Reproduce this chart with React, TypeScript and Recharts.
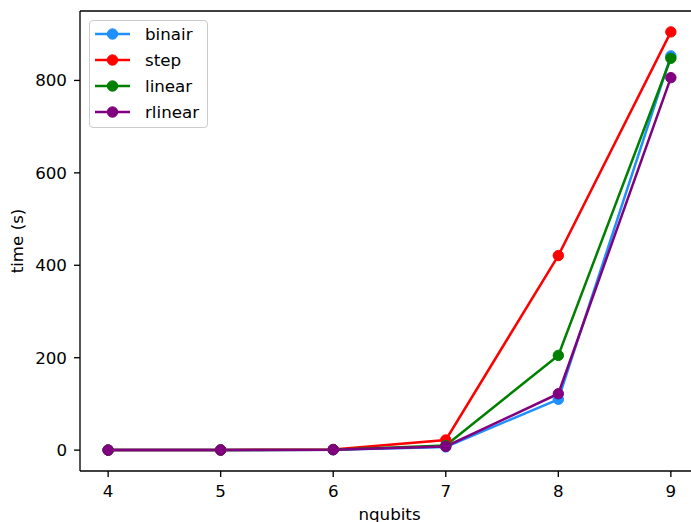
import React from 'react';
import { LineChart, Line, XAxis, YAxis, Legend, ReferenceLine } from 'recharts';

const qubits = [4, 5, 6, 7, 8, 9];
const binair = [0.1, 0.3, 0.9, 7, 110, 853];
const step = [0.1, 0.4, 1.5, 22, 421, 905];
const linear = [0.1, 0.3, 1.0, 10, 205, 848];
const rlinear = [0.1, 0.3, 1.0, 8, 122, 806];
const xTicks = [4, 5, 6, 7, 8, 9];
const yTicks = [0, 200, 400, 600, 800];

const series = [
  { key: 'binair', name: 'binair', color: '#1E90FF', values: binair },
  { key: 'step', name: 'step', color: '#FF0000', values: step },
  { key: 'linear', name: 'linear', color: '#008000', values: linear },
  { key: 'rlinear', name: 'rlinear', color: '#800080', values: rlinear },
];

const data = qubits.map((q, i) => {
  const row: Record<string, number> = { x: q };
  series.forEach((s) => {
    row[s.key] = s.values[i];
  });
  return row;
});

const allY = series.flatMap((s) => s.values);
const yMin = Math.min(...allY);
const yMax = Math.max(...allY);
const yPad = (yMax - yMin) * 0.05;
const xPad = (qubits[qubits.length - 1] - qubits[0]) * 0.05;

const FONT = '"DejaVu Sans", sans-serif';
const FS = 16.7;
const DOT_R = 5.2;

const LegendBox = () => (
  <div
    style={{
      width: 119,
      height: 108,
      boxSizing: 'border-box',
      border: '1px solid #cccccc',
      borderRadius: 4,
      background: 'rgba(255,255,255,0.8)',
      paddingTop: 0,
      fontFamily: FONT,
      fontSize: FS,
      color: '#000',
    }}
  >
    {series.map((s) => (
      <div key={s.key} style={{ display: 'flex', alignItems: 'center', height: 26 }}>
        <svg width={50} height={26} style={{ display: 'block' }}>
          <line x1={5} y1={13} x2={40} y2={13} stroke={s.color} strokeWidth={2.5} />
          <circle cx={22.5} cy={13} r={DOT_R} fill={s.color} stroke={s.color} strokeWidth={1} />
        </svg>
        <span style={{ marginLeft: 5, lineHeight: '26px' }}>{s.name}</span>
      </div>
    ))}
  </div>
);

const YLabel = (props: any) => {
  const vb = props.viewBox || {};
  const cx = 23;
  const cy = vb.y + vb.height / 2;
  return (
    <text
      x={cx}
      y={cy}
      transform={`rotate(-90 ${cx} ${cy})`}
      textAnchor="middle"
      fontFamily={FONT}
      fontSize={FS}
      fill="#000"
    >
      time (s)
    </text>
  );
};

const XLabel = (props: any) => {
  const vb = props.viewBox || {};
  const cx = vb.x + vb.width / 2;
  return (
    <text x={cx} y={519.5} textAnchor="middle" fontFamily={FONT} fontSize={FS} fill="#000">
      nqubits
    </text>
  );
};

const tickStyle = { fontFamily: FONT, fontSize: FS, fill: '#000' };

export default function App() {
  return (
    <div
      style={{
        position: 'absolute',
        left: 0,
        top: 0,
        width: 691,
        height: 522,
        overflow: 'hidden',
        background: '#fff',
      }}
    >
      <LineChart
        width={710}
        height={522}
        data={data}
        margin={{ top: 11, right: 11, bottom: 0, left: 0 }}
      >
        <XAxis
          dataKey="x"
          type="number"
          domain={[qubits[0] - xPad, qubits[qubits.length - 1] + xPad]}
          ticks={xTicks}
          height={51}
          tickSize={6}
          tickMargin={8}
          tick={tickStyle}
          stroke="#000"
          axisLine={{ stroke: '#000', strokeWidth: 1.33 }}
          tickLine={{ stroke: '#000', strokeWidth: 1.33 }}
          label={<XLabel />}
          allowDataOverflow
        />
        <YAxis
          type="number"
          domain={[yMin - yPad, yMax + yPad]}
          ticks={yTicks}
          width={80}
          tickSize={6}
          tickMargin={7}
          tick={tickStyle}
          stroke="#000"
          axisLine={{ stroke: '#000', strokeWidth: 1.33 }}
          tickLine={{ stroke: '#000', strokeWidth: 1.33 }}
          label={<YLabel />}
          allowDataOverflow
        />
        <ReferenceLine y={yMax + yPad} stroke="#000" strokeWidth={1.33} ifOverflow="visible" />
        <Legend
          layout="vertical"
          align="center"
          verticalAlign="middle"
          wrapperStyle={{ left: 89, top: 20, width: 119, height: 108 }}
          content={() => <LegendBox />}
        />
        {series.map((s) => (
          <Line
            key={s.key}
            dataKey={s.key}
            name={s.name}
            stroke={s.color}
            strokeWidth={2.5}
            dot={{ r: DOT_R, fill: s.color, stroke: s.color, strokeWidth: 1 }}
            activeDot={false}
            isAnimationActive={false}
            type="linear"
          />
        ))}
      </LineChart>
    </div>
  );
}
